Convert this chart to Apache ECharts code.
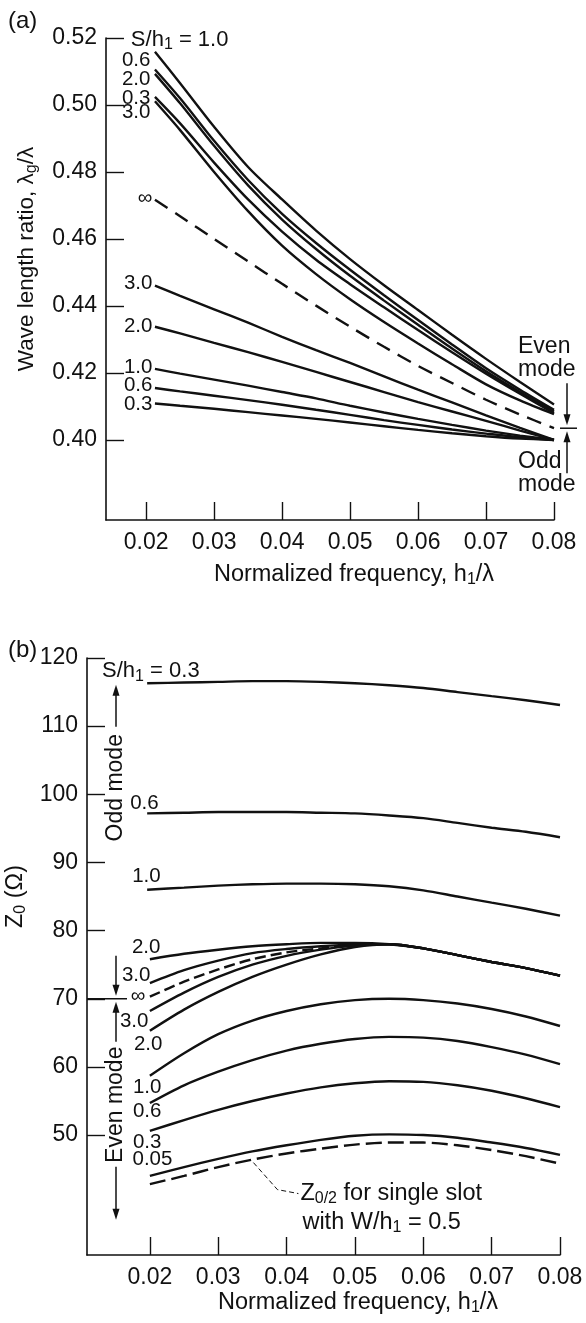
<!DOCTYPE html>
<html><head><meta charset="utf-8">
<script src="https://cdn.jsdelivr.net/npm/echarts@6/dist/echarts.min.js"></script>
<style>html,body{margin:0;padding:0;background:#fff}#c{width:586px;height:1323px}</style>
</head><body><div id="c"></div>
<script>
const FONT = '"Liberation Sans", Arial, Helvetica, sans-serif';
const INK = '#111';

// ---------- Panel (a): wavelength ratio ----------
const xTicksA = [0.02, 0.03, 0.04, 0.05, 0.06, 0.07, 0.08];
const yTicksA = [0.40, 0.42, 0.44, 0.46, 0.48, 0.50, 0.52];
const freqA = [0.0213, 0.025, 0.03, 0.035, 0.04, 0.045, 0.05, 0.055, 0.06, 0.065, 0.07, 0.075, 0.08];
// even mode
const evenA_10 = [0.5159, 0.5065, 0.4935, 0.4815, 0.4718, 0.4625, 0.4540, 0.4462, 0.4388, 0.4314, 0.4242, 0.4173, 0.4106];
const evenA_06 = [0.5106, 0.5020, 0.4893, 0.4776, 0.4675, 0.4588, 0.4508, 0.4432, 0.4358, 0.4285, 0.4214, 0.4150, 0.4090];
const evenA_20 = [0.5093, 0.5005, 0.4878, 0.4760, 0.4658, 0.4570, 0.4490, 0.4416, 0.4344, 0.4273, 0.4205, 0.4143, 0.4085];
const evenA_03 = [0.5024, 0.4945, 0.4828, 0.4718, 0.4622, 0.4538, 0.4465, 0.4396, 0.4328, 0.4262, 0.4198, 0.4138, 0.4080];
const evenA_30 = [0.5011, 0.4925, 0.4800, 0.4683, 0.4580, 0.4495, 0.4420, 0.4352, 0.4288, 0.4226, 0.4166, 0.4118, 0.4077];
// S/h1 = infinity
const infA     = [0.4717, 0.4668, 0.4600, 0.4533, 0.4466, 0.4401, 0.4338, 0.4278, 0.4221, 0.4170, 0.4120, 0.4076, 0.4035];
// odd mode
const oddA_30  = [0.4461, 0.4430, 0.4390, 0.4350, 0.4308, 0.4268, 0.4230, 0.4190, 0.4150, 0.4112, 0.4073, 0.4036, 0.4000];
const oddA_20  = [0.4338, 0.4318, 0.4290, 0.4262, 0.4233, 0.4203, 0.4173, 0.4143, 0.4113, 0.4085, 0.4057, 0.4028, 0.4000];
const oddA_10  = [0.4212, 0.4198, 0.4180, 0.4162, 0.4143, 0.4124, 0.4102, 0.4082, 0.4063, 0.4045, 0.4028, 0.4013, 0.4000];
const oddA_06  = [0.4155, 0.4145, 0.4132, 0.4119, 0.4105, 0.4090, 0.4075, 0.4059, 0.4045, 0.4031, 0.4019, 0.4008, 0.4000];
const oddA_03  = [0.4109, 0.4102, 0.4093, 0.4083, 0.4073, 0.4063, 0.4052, 0.4041, 0.4030, 0.4020, 0.4011, 0.4004, 0.4000];

// ---------- Panel (b): characteristic impedance ----------
const xTicksB = [0.02, 0.03, 0.04, 0.05, 0.06, 0.07, 0.08];
const yTicksB = [50, 60, 70, 80, 90, 100, 110, 120];
const freqB = [0.02, 0.025, 0.03, 0.035, 0.04, 0.045, 0.05, 0.055, 0.06, 0.065, 0.07, 0.075, 0.08];
// odd mode
const oddB_03 = [116.3, 116.4, 116.5, 116.6, 116.6, 116.5, 116.3, 116.0, 115.6, 115.0, 114.4, 113.8, 113.1];
const oddB_06 = [97.2, 97.3, 97.4, 97.4, 97.4, 97.3, 97.2, 96.9, 96.5, 95.8, 95.1, 94.5, 93.7];
const oddB_10 = [86.0, 86.3, 86.6, 86.8, 86.9, 86.9, 86.8, 86.5, 85.9, 85.0, 84.1, 83.2, 82.2];
const oddB_20 = [75.8, 76.6, 77.2, 77.7, 78.0, 78.2, 78.2, 78.0, 77.4, 76.4, 75.4, 74.5, 73.4];
const oddB_30 = [72.3, 74.2, 75.6, 76.7, 77.3, 77.7, 77.95, 78.0, 77.4, 76.4, 75.4, 74.5, 73.4];
// S/h1 = infinity
const infB    = [70.3, 72.5, 74.3, 75.8, 76.8, 77.4, 77.9, null, null, null, null, null, null];
// even mode
const evenB_30 = [68.2, 70.9, 73.2, 75.0, 76.3, 77.2, 77.8, 78.0, 77.4, 76.4, 75.4, 74.5, 73.4];
const evenB_20 = [65.3, 68.4, 71.0, 73.2, 75.0, 76.5, 77.6, 78.0, 77.4, 76.4, 75.4, 74.5, 73.4];
const evenB_10 = [58.7, 62.0, 64.8, 66.8, 68.2, 69.2, 69.8, 70.0, 69.8, 69.3, 68.5, 67.4, 66.0];
const evenB_06 = [54.7, 57.3, 59.3, 61.0, 62.4, 63.4, 64.1, 64.4, 64.3, 63.8, 62.9, 61.8, 60.4];
const evenB_03 = [50.6, 52.2, 53.7, 55.0, 56.1, 57.0, 57.6, 57.9, 57.8, 57.3, 56.5, 55.4, 54.1];
const evenB_005 = [44.0, 45.3, 46.5, 47.6, 48.5, 49.3, 49.9, 50.1, 50.0, 49.6, 48.9, 48.1, 47.1];
// Z0/2 for a single slot with W/h1 = 0.5
const singleSlotB = [42.8, 44.0, 45.3, 46.4, 47.3, 48.0, 48.6, 48.9, 48.9, 48.5, 47.8, 46.9, 45.8];

const RICH = {
  s: { fontSize: 16, fontFamily: FONT, color: INK, lineHeight: 13, padding: [10, 0, 0, 0] },
  b: { fontSize: 22, fontFamily: FONT, color: INK, lineHeight: 23 }
};

function curve(gi, xs, ys, text, off, dash, fs) {
  const data = [];
  xs.forEach((x, i) => { if (ys[i] != null) data.push([x, ys[i]]); });
  return {
    type: 'line', xAxisIndex: gi, yAxisIndex: gi, data,
    smooth: 0.3, symbol: 'circle', symbolSize: 1, showSymbol: true, showAllSymbol: true,
    itemStyle: { color: 'rgba(0,0,0,0)' },
    lineStyle: { color: INK, width: 2.4, type: dash || 'solid' },
    label: {
      show: true, position: 'left', distance: 4, offset: off,
      color: INK, fontFamily: FONT, fontSize: fs || 20.5, lineHeight: 22, rich: RICH,
      formatter: p => (p.dataIndex === 0 ? text : '')
    },
    emphasis: { disabled: true }, silent: true, animation: false, z: 3
  };
}

const axisCommon = {
  type: 'value',
  axisLine: { show: true, onZero: false, lineStyle: { color: INK, width: 1.6 } },
  axisTick: { show: true, inside: true, length: 18, lineStyle: { color: INK, width: 1.4 } },
  splitLine: { show: false },
  axisLabel: { color: INK, fontFamily: FONT, fontSize: 23 },
  nameTextStyle: { color: INK, fontFamily: FONT, fontSize: 23.5, lineHeight: 25, rich: RICH }
};

const option = {
  animation: false,
  backgroundColor: '#fff',
  textStyle: { fontFamily: FONT },
  title: [
    { text: '(a)', left: 3, top: 4, textStyle: { fontSize: 24, fontWeight: 'normal', color: INK, fontFamily: FONT } },
    { text: '(b)', left: 3, top: 633, textStyle: { fontSize: 24, fontWeight: 'normal', color: INK, fontFamily: FONT } }
  ],
  grid: [
    { left: 106, top: 38, width: 448, height: 482, containLabel: false, outerBoundsMode: 'none' },
    { left: 87, top: 658, width: 473, height: 597, containLabel: false, outerBoundsMode: 'none' }
  ],
  xAxis: [
    Object.assign({}, axisCommon, {
      gridIndex: 0, min: 0.0141, max: 0.08,
      axisTick: Object.assign({}, axisCommon.axisTick, { customValues: xTicksA }),
      axisLabel: Object.assign({}, axisCommon.axisLabel, { customValues: xTicksA, margin: 11, formatter: v => v.toFixed(2) }),
      name: 'Normalized frequency, h{s|1}/λ', nameLocation: 'middle', nameGap: 42,
      nameTextStyle: Object.assign({}, axisCommon.nameTextStyle, { padding: [0, 0, 0, 48] })
    }),
    Object.assign({}, axisCommon, {
      gridIndex: 1, min: 0.0108, max: 0.08,
      axisTick: Object.assign({}, axisCommon.axisTick, { customValues: xTicksB }),
      axisLabel: Object.assign({}, axisCommon.axisLabel, { customValues: xTicksB, margin: 11, formatter: v => v.toFixed(2) }),
      name: 'Normalized frequency, h{s|1}/λ', nameLocation: 'middle', nameGap: 34,
      nameTextStyle: Object.assign({}, axisCommon.nameTextStyle, { padding: [0, 0, 0, 69] })
    })
  ],
  yAxis: [
    Object.assign({}, axisCommon, {
      gridIndex: 0, min: 0.3761, max: 0.52,
      axisTick: Object.assign({}, axisCommon.axisTick, { customValues: yTicksA }),
      axisLabel: Object.assign({}, axisCommon.axisLabel, { customValues: yTicksA, margin: 9, formatter: v => v.toFixed(2) }),
      name: 'Wave length ratio, λ{s|g}/λ', nameLocation: 'middle', nameGap: 67, nameRotate: 90,
      nameTextStyle: Object.assign({}, axisCommon.nameTextStyle, { fontSize: 22.5, padding: [0, 0, 0, 40] })
    }),
    Object.assign({}, axisCommon, {
      gridIndex: 1, min: 32.4, max: 120,
      axisTick: Object.assign({}, axisCommon.axisTick, { customValues: yTicksB }),
      axisLabel: Object.assign({}, axisCommon.axisLabel, { customValues: yTicksB, margin: 9, formatter: v => String(Math.round(v)) }),
      name: 'Z{s|0} (Ω)', nameLocation: 'middle', nameGap: 46, nameRotate: 90,
      nameTextStyle: Object.assign({}, axisCommon.nameTextStyle, { padding: [0, 0, 0, 120] })
    })
  ],
  series: [
    curve(0, freqA, evenA_10, '{b|S/h}{s|1}{b| = 1.0}', [78, -12], null, 22),
    curve(0, freqA, evenA_06, '0.6', [0, -9]),
    curve(0, freqA, evenA_20, '2.0', [0, 6]),
    curve(0, freqA, evenA_03, '0.3', [0, 1]),
    curve(0, freqA, evenA_30, '3.0', [0, 11]),
    curve(0, freqA, infA, '∞', [2, -1], [15, 9]),
    curve(0, freqA, oddA_30, '3.0', [2, -2]),
    curve(0, freqA, oddA_20, '2.0', [2, 0]),
    curve(0, freqA, oddA_10, '1.0', [2, -2]),
    curve(0, freqA, oddA_06, '0.6', [2, -3]),
    curve(0, freqA, oddA_03, '0.3', [2, 1]),

    curve(1, [0.0196].concat(freqB.slice(1)), oddB_03, '{b|S/h}{s|1}{b| = 0.3}', [57, -12], null, 22.5),
    curve(1, [0.0196].concat(freqB.slice(1)), oddB_06, '0.6', [16, -10]),
    curve(1, [0.0196].concat(freqB.slice(1)), oddB_10, '1.0', [18, -13]),
    curve(1, freqB, oddB_20, '2.0', [15, -12]),
    curve(1, freqB, oddB_30, '3.0', [5, -8]),
    curve(1, freqB, infB, '∞', [0, 0], [11, 5]),
    curve(1, freqB, evenB_30, '3.0', [3, 10]),
    curve(1, freqB, evenB_20, '2.0', [17, 14]),
    curve(1, freqB, evenB_10, '1.0', [16, 12]),
    curve(1, freqB, evenB_06, '0.6', [16, 8]),
    curve(1, freqB, evenB_03, '0.3', [16, 11]),
    curve(1, freqB, evenB_005, '0.05', [27, -17]),
    curve(1, freqB, singleSlotB, '', [0, 0], [16, 6])
  ]
};

const chart = echarts.init(document.getElementById('c'), null, { renderer: 'canvas' });
chart.setOption(option);

// ---------- annotations (anchored to data through the axes) ----------
const pA = v => chart.convertToPixel({ xAxisIndex: 0, yAxisIndex: 0 }, v);
const pB = v => chart.convertToPixel({ xAxisIndex: 1, yAxisIndex: 1 }, v);
const G = [];
function seg(x1, y1, x2, y2, w, dash) {
  G.push({ type: 'line', silent: true, z: 10, shape: { x1, y1, x2, y2 }, style: { stroke: INK, lineWidth: w || 1.5, lineDash: dash || null } });
}
function vArrow(x, yFrom, yTo) {
  const d = yTo > yFrom ? 1 : -1;
  seg(x, yFrom, x, yTo - d * 6, 1.5);
  G.push({ type: 'polygon', silent: true, z: 10, shape: { points: [[x - 3.5, yTo - d * 11], [x + 3.5, yTo - d * 11], [x, yTo]] }, style: { fill: INK } });
}
function txt(x, y, text, opts) {
  G.push(Object.assign({ type: 'text', silent: true, z: 10, x, y,
    style: Object.assign({ text, fill: INK, fontSize: 23, fontFamily: FONT, lineHeight: 23, rich: RICH }, opts && opts.style) },
    opts && opts.el));
}

// (a) Even / Odd mode marker at the infinity curve end
const pe = pA([freqA[freqA.length - 1], infA[infA.length - 1]]);
seg(pe[0] + 6, pe[1], pe[0] + 23, pe[1], 1.5);
vArrow(pe[0] + 13, pe[1] - 45, pe[1] - 3);
vArrow(pe[0] + 13, pe[1] + 45, pe[1] + 3);
txt(pe[0] - 36, pe[1] - 93, 'Even\nmode', { style: { align: 'left', verticalAlign: 'top' } });
txt(pe[0] - 36, pe[1] + 22, 'Odd\nmode', { style: { align: 'left', verticalAlign: 'top' } });

// (b) Odd / Even mode marker around 70 ohm
const p70 = pB([0.0108, 70]);
seg(p70[0], p70[1], p70[0] + 40, p70[1], 1.3);
const ax = p70[0] + 29;
vArrow(ax, p70[1] - 43, p70[1] - 3);
vArrow(ax, p70[1] + 43, p70[1] + 3);
txt(ax, p70[1] - 211, 'Odd mode', { style: { align: 'center', verticalAlign: 'middle' }, el: { rotation: Math.PI / 2 } });
vArrow(ax, p70[1] - 272, p70[1] - 314);
txt(ax, p70[1] + 106, 'Even mode', { style: { align: 'center', verticalAlign: 'middle' }, el: { rotation: Math.PI / 2 } });
vArrow(ax, p70[1] + 168, p70[1] + 221);

// (b) leader for the single-slot curve
const ps = pB([freqB[3], singleSlotB[3]]);
G.push({ type: 'polyline', silent: true, z: 10,
  shape: { points: [[ps[0] + 1, ps[1] + 3], [ps[0] + 25, ps[1] + 30], [ps[0] + 46, ps[1] + 34]] },
  style: { stroke: INK, lineWidth: 1, lineDash: [5, 3], fill: null } });
txt(ps[0] + 48, ps[1] + 34, 'Z{s|0/2} for single slot', { style: { align: 'left', verticalAlign: 'middle', fontSize: 23.5 } });
txt(ps[0] + 50, ps[1] + 63, 'with W/h{s|1} = 0.5', { style: { align: 'left', verticalAlign: 'middle', fontSize: 23.5 } });

chart.setOption({ graphic: G });
</script>
</body></html>
